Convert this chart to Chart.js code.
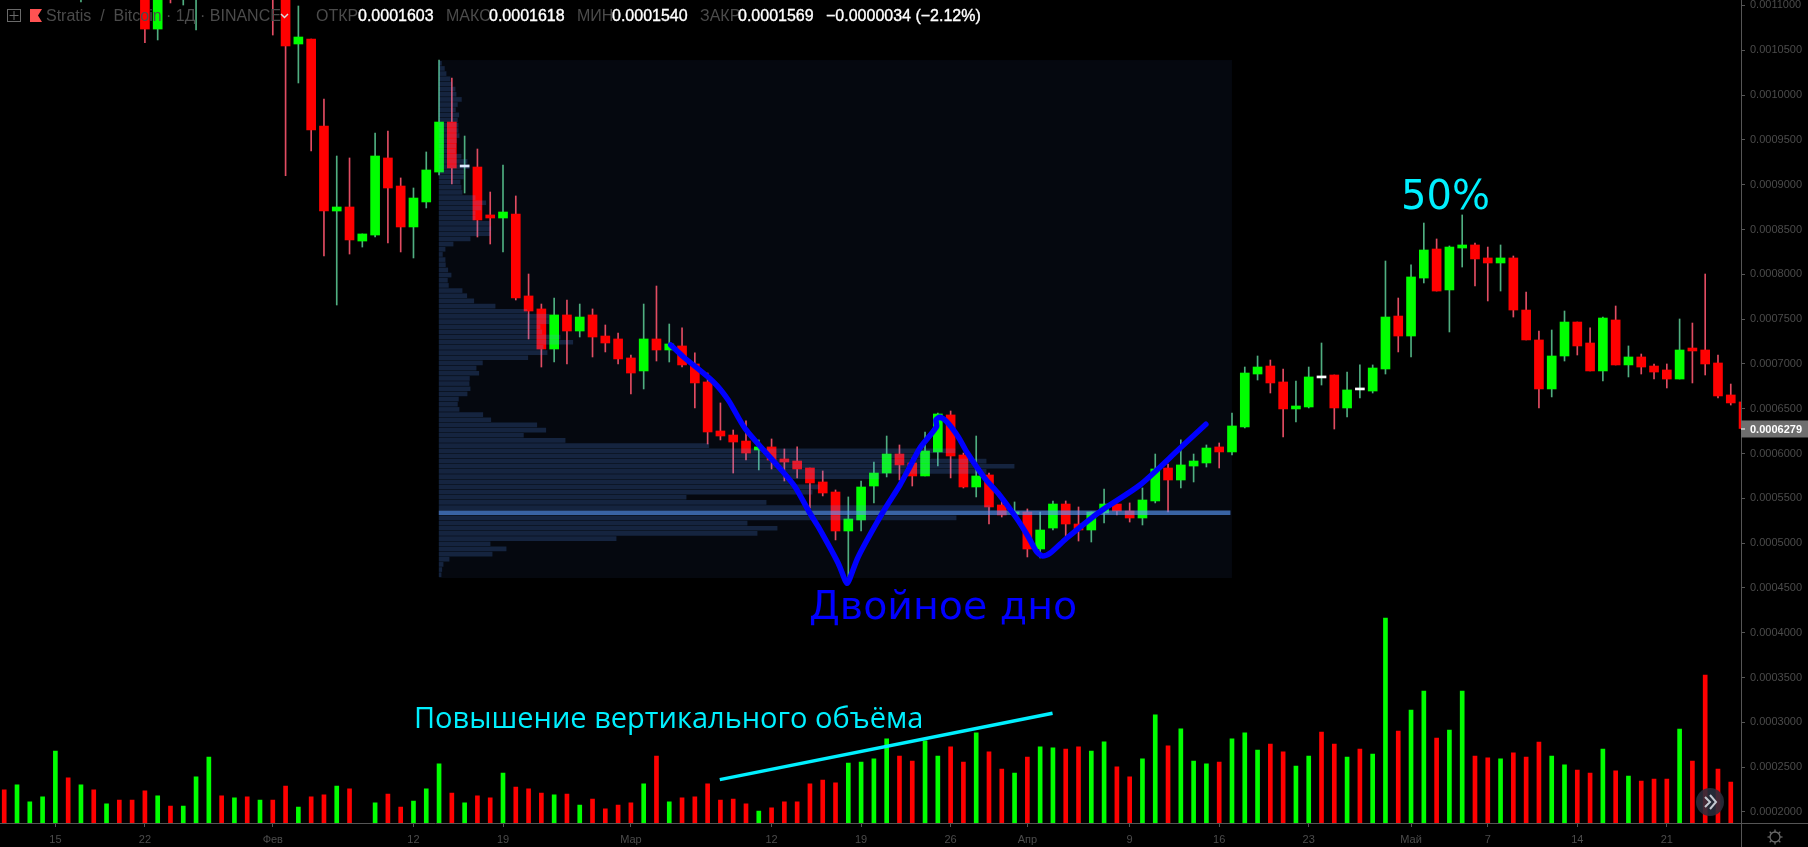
<!DOCTYPE html>
<html>
<head>
<meta charset="utf-8">
<title>Stratis / Bitcoin</title>
<script src="https://cdn.jsdelivr.net/npm/chart.js@4/dist/chart.umd.min.js"></script>
<style>
html, body { margin: 0; padding: 0; background: #000; overflow: hidden; }
canvas { display: block; }
</style>
</head>
<body>
<canvas id="myChart" width="1808" height="847"></canvas>
<script>
// prices are kept in units of 0.0000001, x is days from 15 Jan
var days = [2,7,8,9,10,11,17,18,19,20,21,22,23,24,25,26,27,28,29,30,31,32,33,34,35,36,37,38,39,40,
  41,42,43,44,45,46,47,48,49,50,51,52,53,54,55,56,57,58,59,60,61,62,63,64,65,66,67,68,69,70,
  71,72,73,74,75,76,77,78,79,80,81,82,83,84,85,86,87,88,89,90,91,92,93,94,95,96,97,98,99,100,
  101,102,103,104,105,106,107,108,109,110,111,112,113,114,115,116,117,118,119,120,121,122,123,124,125,126,127,128,129,130,131,132];

var opens = [11300,11400,10737,11500,11200,11200,11500,11200,10570,10626,9655,8706,8751,8371,8438,9298,8985,8528,8807,9141,9699,9197,9197,8662,8628,8673,7758,7613,7166,7546,
  7367,7546,7311,7278,7066,6921,7278,7155,7200,6999,6798,6251,6206,6139,6039,6073,5939,5916,5838,5682,5570,5135,5258,5637,5782,5994,5894,5749,6017,6430,
  5983,5626,5760,5425,5325,5347,4934,5168,5436,5213,5146,5336,5436,5358,5280,5470,5838,5704,5860,5894,6073,6017,6296,6887,6976,6798,6497,6519,6843,6876,
  6508,6709,6697,6943,7534,7311,7958,8282,7825,8293,8327,8182,8126,8182,7601,7267,6720,7088,7467,7233,6921,7490,6988,7077,6976,6932,6831,7177,7155,7010,6653,6575];
var highs = [11600,11500,11400,11600,11500,11600,11600,11300,10994,10626,9956,9320,9298,8450,9577,9599,9075,8963,9365,10391,10190,9543,9398,8918,9220,8874,8003,7668,7735,7713,
  7668,7613,7434,7345,7099,7668,7869,7445,7401,7122,6898,6564,6262,6363,6151,6162,6050,6073,5838,5805,5593,5515,5693,5905,6195,6095,5950,6240,6452,6474,
  6005,6195,5782,5470,5459,5381,5347,5470,5470,5403,5347,5604,5436,5448,5615,5994,5883,6151,5994,6095,6117,6452,6965,7088,7043,6943,6809,6965,7233,6876,
  6909,6988,6988,8148,7735,8104,8572,8394,8316,8662,8349,8304,8327,8204,7802,7367,7378,7590,7467,7401,7523,7646,7200,7110,6999,6999,7501,7456,8003,7099,6775,6700];
var lows = [11039,10584,10615,11028,11005,10726,10670,9100,10135,9376,8204,7657,8226,8304,8416,8349,8249,8182,8740,9108,9008,8907,8416,8338,8249,7713,7278,6965,7021,6999,
  7300,7077,7133,6999,6664,6720,7032,7021,6965,6508,6106,6151,5782,5927,5816,5827,5693,5727,5392,5526,5035,4622,5135,5448,5738,5704,5637,5749,5860,5727,
  5615,5515,5213,5291,5314,4845,4834,5146,5068,5023,5012,5224,5314,5235,5202,5448,5347,5615,5682,5849,5838,5983,6285,6820,6675,6184,6351,6508,6764,6273,
  6407,6619,6675,6887,7133,7077,7903,7813,7356,8081,7869,7702,7813,7523,7267,6508,6631,7032,7099,6921,6809,6988,6854,6887,6831,6731,6831,6787,6876,6619,6541,6279];
var closes = [11500,10737,11300,11300,11400,11500,11200,10548,10648,9610,8706,8751,8383,8450,9320,8963,8528,8851,9164,9699,9186,9197,8606,8628,8695,7735,7590,7166,7546,7367,
  7523,7300,7233,7055,6898,7278,7155,7222,6988,6787,6240,6195,6128,6005,6073,5927,5905,5827,5671,5559,5135,5269,5626,5782,5994,5872,5749,6028,6441,5972,
  5626,5749,5403,5314,5347,4934,5146,5436,5213,5146,5347,5436,5358,5280,5481,5827,5704,5872,5916,6061,6017,6307,6898,6965,6787,6497,6530,6854,6843,6508,
  6709,6709,6954,7523,7311,7970,8271,7813,8304,8327,8171,8126,8182,7601,7267,6720,7088,7467,7200,6921,7512,6988,7077,6965,6909,6831,7155,7144,6999,6642,6564,6279];

// volume pane, first bar is day -4
var volumeStart = -4;
var volumes = [2245,2301,2111,2167,2680,2379,2301,2245,2089,2133,
  2133,2234,2178,2066,2066,2390,2613,2178,2156,2167,
  2133,2133,2289,2055,2167,2189,2289,2256,null,2100,
  2200,2055,2122,2256,2535,2211,2100,2178,2156,2434,
  2278,2256,2211,2189,2200,2077,2144,2033,2077,2100,
  2312,2624,2111,2156,2167,2312,2133,2144,2089,2010,
  2044,2111,2111,2312,2356,2323,2546,2557,2591,2814,
  2624,2568,2792,2624,2725,2557,2881,2669,2479,2434,
  2613,2725,2714,2702,2725,2680,2781,2502,2390,2591,
  3082,2736,2926,2568,2535,2557,2814,2881,2691,2758,
  2669,2512,2624,2892,2758,2613,2702,2646,4164,2903,
  3137,3349,2825,2914,3349,2624,2602,2591,2658,2613,
  2780,2624,2524,2468,2434,2702,2457,2401,2345,2367,
  2367,2925,2568,3528,2479,2334];
var volumeSides = ("rggggrgrgr" + "rrgrgggrgr" + "grrgrrgrrg" + "rrgggrgrrg" + "rrrgrgrrrr" +
  "grgrrrrrrg" + "rrrrrrgggg" + "rrggrrgrrg" + "rggrrggrrg" + "grgggrgggr" +
  "rggrrgrggr" + "ggrggrrgrr" + "rggrrgrgrr" + "rgrrrr").split("");

var profileHigh = 10355;
var profileLow = 4647;
var profileRows = [2.3,5.3,7,11,12.7,16,17,22.3,18.3,16.3,19.7,18.3,19,19,20,17.3,16.7,16.3,22,28,30,24.3,24.3,21,22,23,36,46.7,42,36,36,50.3,51.7,51,31,14,6,3.3,6,6.3,8.7,12,8.3,9.3,23,27.7,34.7,56,
  87.7,110,110,101,102.7,121,133.7,104,108,88.7,43.3,37,39.7,30.3,30,31,28,19.3,18.3,20,43.7,51.7,97.7,106.7,84.3,126,269.7,
  516,491,547,575,547,440,353,380,373,247,327,551,791,517,308,338,318,177,51,67,53,10,4,2.7,2];
var pocRow = 87;

// hand drawn lines
var patternX = [48.11,49.09,51.44,52.61,53.92,56.65,57.83,59,59.65,61.21,61.74,61.92,62.07,62.78,64.73,66.04,66.82,67.6,68.9,68.85,69.16,69.69,70.59,71.25,72.68,73.72,75.16,76.07,76.72,77.19,77.76,79.07,81.67,84.8,87.93,89.96];
var patternY = [7211,7080,6801,6597,6281,5835,5629,5333,5183,4775,4588,4551,4588,4848,5350,5648,5853,6061,6299,6374,6404,6355,6187,6020,5723,5556,5277,5071,4904,4856,4886,5054,5350,5648,6058,6326];
var volumeLineX = [51.95,77.97];
var volumeLineY = [2360,3100];

var priceTicks = [2000,2500,3000,3500,4000,4500,5000,5500,6000,6500,7000,7500,8000,8500,9000,9500,10000,10500,11000];
var timeTicks = [0,7,17,28,35,45,56,63,70,76,84,91,98,106,112,119,126];
var timeLabels = ["15","22","Фев","12","19","Мар","12","19","26","Апр","9","16","23","Май","7","14","21"];
var lastPrice = 6279;

var green = '#00ff00', red = '#ff0000', white = '#ffffff';
var greenWick = '#4fae80', redWick = '#e24c62';
var dim = '#4b4b4b', axisLine = '#555555', cyan = '#00f0ff';
var uiFont = '"Liberation Sans", sans-serif';

var profileStep = (profileHigh - profileLow) / (profileRows.length - 1);

function price(v) { return (v / 1e7).toFixed(7); }

function sideColor(o, c) {
  if (c > o) return green;
  if (c < o) return red;
  return white;
}

var overlay = {
  id: 'overlay',
  beforeDatasetsDraw: function(chart) {
    // profile background
    var c = chart.ctx, x = chart.scales.x, y = chart.scales.y;
    var left = x.getPixelForValue(30), right = x.getPixelForValue(92);
    var top = y.getPixelForValue(10391), bottom = y.getPixelForValue(4610);
    c.save();
    c.fillStyle = '#05080f';
    c.fillRect(left, top, right - left, bottom - top);
    c.restore();
  },
  afterDraw: function(chart) {
    var c = chart.ctx, y = chart.scales.y;
    c.save();

    // axis lines that go past the plot area
    c.fillStyle = axisLine;
    c.fillRect(1741, 823, 67, 1);
    c.fillRect(1741, 823, 1, 24);

    // last price label
    var py = y.getPixelForValue(lastPrice);
    c.fillStyle = '#6f6f6f';
    c.fillRect(1741, py - 8, 67, 17);
    c.fillStyle = '#ffffff';
    c.fillRect(1741, py, 4, 1);
    c.font = 'bold 11px ' + uiFont;
    c.textBaseline = 'middle';
    c.textAlign = 'left';
    c.fillText(price(lastPrice), 1750, py + 1);

    // annotations
    c.textBaseline = 'alphabetic';
    c.fillStyle = '#0000ff';
    c.font = '39.5px "DejaVu Sans"';
    c.fillText('Двойное дно', 809, 619);
    c.fillStyle = cyan;
    c.font = '40px "DejaVu Sans"';
    c.fillText('50%', 1401, 209);
    c.font = '29px "Open Sans"';
    c.fillText('Повышение вертикального объёма', 414, 728);

    // header
    c.fillStyle = dim;
    c.font = '16px ' + uiFont;
    c.fillText('Stratis  /  Bitcoin · 1Д · BINANCE', 46, 21);
    c.fillText('ОТКР', 316, 21);
    c.fillText('МАКС', 446, 21);
    c.fillText('МИН', 577, 21);
    c.fillText('ЗАКР', 700, 21);
    c.fillStyle = '#ffffff';
    c.strokeStyle = '#ffffff';
    c.lineWidth = 0.35;
    var values = [['0.0001603', 358], ['0.0001618', 489], ['0.0001540', 612], ['0.0001569', 738], ['−0.0000034 (−2.12%)', 826]];
    values.forEach(function(v) {
      c.fillText(v[0], v[1], 21);
      c.strokeText(v[0], v[1], 21);
    });

    // plus box
    c.strokeStyle = '#6a6a6a';
    c.lineWidth = 1;
    c.strokeRect(7.5, 9.5, 13, 12);
    c.beginPath();
    c.moveTo(14, 11); c.lineTo(14, 20);
    c.moveTo(9.5, 15.5); c.lineTo(18.5, 15.5);
    c.stroke();

    // flag
    c.fillStyle = '#ff5252';
    c.beginPath();
    c.moveTo(30, 9); c.lineTo(42, 9); c.lineTo(38, 15.5); c.lineTo(42, 22); c.lineTo(30, 22);
    c.closePath();
    c.fill();

    // chevron by the symbol name
    c.strokeStyle = '#dddddd';
    c.lineWidth = 1.5;
    c.beginPath();
    c.moveTo(281, 14); c.lineTo(284.5, 17.5); c.lineTo(288, 14);
    c.stroke();

    // scroll button
    c.fillStyle = 'rgba(42,46,60,0.88)';
    c.beginPath();
    c.arc(1710, 802, 14, 0, Math.PI * 2);
    c.fill();
    c.strokeStyle = '#c4c8d0';
    c.lineWidth = 2;
    c.beginPath();
    c.moveTo(1705, 797); c.lineTo(1710, 802); c.lineTo(1705, 807);
    c.moveTo(1710, 795); c.lineTo(1716, 802); c.lineTo(1710, 809);
    c.stroke();

    // settings gear
    c.strokeStyle = '#6a6a6a';
    c.lineWidth = 1.3;
    c.beginPath();
    c.arc(1775, 837, 5, 0, Math.PI * 2);
    c.stroke();
    for (var i = 0; i < 8; i++) {
      var a = i * Math.PI / 4;
      c.beginPath();
      c.moveTo(1775 + Math.cos(a) * 5, 837 + Math.sin(a) * 5);
      c.lineTo(1775 + Math.cos(a) * 7.5, 837 + Math.sin(a) * 7.5);
      c.stroke();
    }
    c.restore();
  }
};

var ctx = document.getElementById("myChart").getContext('2d');
var chart = new Chart(ctx, {
  type: 'bar',
  plugins: [overlay],
  data: {
    datasets: [{
      type: 'line',
      order: 0,
      data: patternX.map(function(d, i) { return { x: d, y: patternY[i] }; }),
      borderColor: '#0000ff',
      borderWidth: 5.5,
      borderJoinStyle: 'round',
      borderCapStyle: 'round',
      pointRadius: 0,
      tension: 0.25
    }, {
      type: 'line',
      order: 0,
      data: volumeLineX.map(function(d, i) { return { x: d, y: volumeLineY[i] }; }),
      borderColor: cyan,
      borderWidth: 3.5,
      pointRadius: 0
    }, {
      order: 1,
      indexAxis: 'y',
      xAxisID: 'xProfile',
      yAxisID: 'y',
      grouped: false,
      barThickness: 4,
      data: profileRows.map(function(v, i) { return { x: v, y: profileHigh - i * profileStep }; }),
      backgroundColor: profileRows.map(function(v, i) {
        return i == pocRow ? 'rgba(90,155,255,0.62)' : 'rgba(85,150,255,0.2)';
      })
    }, {
      order: 2,
      grouped: false,
      barThickness: 9,
      minBarLength: 2,
      data: days.map(function(d, i) { return { x: d, y: [opens[i], closes[i]] }; }),
      backgroundColor: days.map(function(d, i) { return sideColor(opens[i], closes[i]); })
    }, {
      order: 3,
      grouped: false,
      barThickness: 1,
      data: days.map(function(d, i) { return { x: d, y: [lows[i], highs[i]] }; }),
      backgroundColor: days.map(function(d, i) {
        return closes[i] >= opens[i] ? greenWick : redWick;
      })
    }, {
      order: 4,
      grouped: false,
      barThickness: 4,
      data: volumes.map(function(v, i) { return { x: volumeStart + i, y: v }; }),
      backgroundColor: volumeSides.map(function(s) { return s == 'g' ? green : red; })
    }]
  },
  options: {
    responsive: false,
    animation: false,
    events: [],
    layout: { padding: 0 },
    plugins: { legend: { display: false }, tooltip: { enabled: false } },
    scales: {
      x: {
        type: 'linear',
        offset: false,
        min: -4.33,
        max: 131.8,
        afterFit: function(scale) {
          scale.height = 24;
          scale.paddingLeft = 0;
          scale.paddingRight = 0;
        },
        afterBuildTicks: function(scale) {
          scale.ticks = timeTicks.map(function(v) { return { value: v }; });
        },
        grid: { offset: false, drawOnChartArea: false, tickLength: 4, color: axisLine },
        border: { color: axisLine },
        ticks: {
          autoSkip: false,
          maxRotation: 0,
          padding: 6,
          color: dim,
          font: { family: uiFont, size: 11 },
          callback: function(v) { return timeLabels[timeTicks.indexOf(v)]; }
        }
      },
      xProfile: {
        type: 'linear',
        display: false,
        offset: false,
        min: -439.1,
        max: 1301.9
      },
      y: {
        type: 'linear',
        position: 'right',
        offset: false,
        min: 1876,
        max: 11061,
        afterFit: function(scale) {
          scale.width = 67;
          scale.paddingTop = 0;
          scale.paddingBottom = 0;
        },
        afterBuildTicks: function(scale) {
          scale.ticks = priceTicks.map(function(v) { return { value: v }; });
        },
        grid: { offset: false, drawOnChartArea: false, tickLength: 4, color: axisLine },
        border: { color: axisLine },
        ticks: {
          padding: 5,
          color: dim,
          font: { family: uiFont, size: 11 },
          callback: function(v) { return price(v); }
        }
      }
    }
  }
});
</script>
</body>
</html>
